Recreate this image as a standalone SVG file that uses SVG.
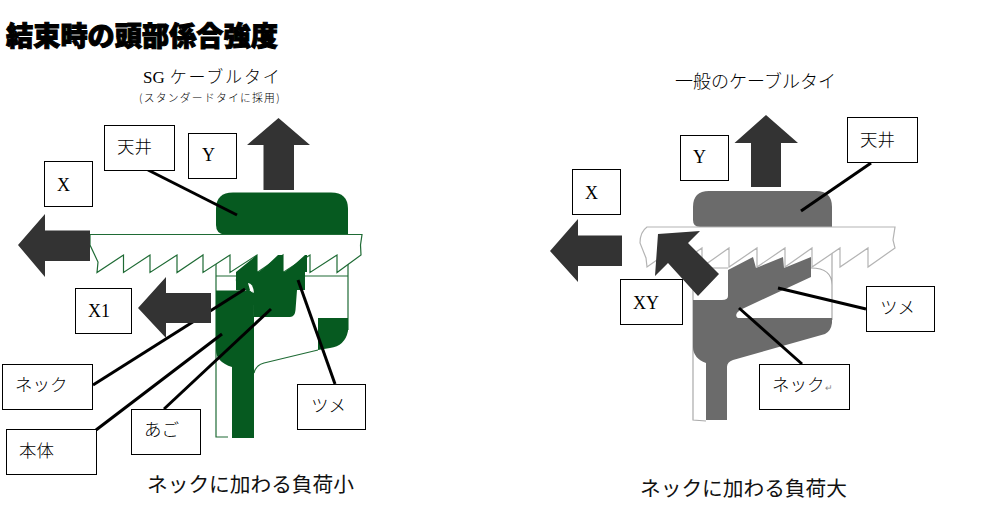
<svg xmlns="http://www.w3.org/2000/svg" width="1000" height="505" viewBox="0 0 1000 505">
<style>
.box{fill:#fff;stroke:#000;stroke-width:1}
.lat{font-family:"Liberation Serif",serif;font-size:18px;fill:#000}
.jp{font-family:"Noto Sans CJK JP","Liberation Sans",sans-serif;font-weight:300;font-size:17.5px;fill:#000}
.cap{font-family:"Noto Sans CJK JP","Liberation Sans",sans-serif;font-size:20.7px;fill:#111}
.ar{fill:#333}
.ln{fill:none;stroke:#000;stroke-width:3}
.gs{fill:#065a20}
.gl{fill:none;stroke:#1f6b35;stroke-width:1.2}
.ks{fill:#6b6b6b}
.kl{fill:none;stroke:#aaa;stroke-width:1.2}
</style>
<rect width="1000" height="505" fill="#fff"/>
<text id="title" x="6" y="46" font-family="'Noto Sans CJK JP',sans-serif" font-weight="900" font-size="27.2" fill="#000" stroke="#000" stroke-width="1">結束時の頭部係合強度</text>
<text x="143" y="83" class="lat"><tspan style="font-size:17px">SG</tspan><tspan class="jp" dx="5" style="font-size:17px" letter-spacing="1.8">ケーブルタイ</tspan></text>
<text x="139" y="102" class="jp" style="font-size:10.8px" letter-spacing="1.25">(スタンダードタイに採用)</text>
<text x="675" y="88" class="jp" style="font-size:18px">一般のケーブルタイ</text>

<g id="part-left">
<path class="gl" d="M216 234V437H228M348 234V330M216 276H348M318 350L264 363Q256 365 254 373"/>
<path class="gs" d="M216 225V209Q216 192.500 233 192.500H331Q348 192.500 348 209V234.500H225Q216 234 216 225Z"/>
<path class="gs" d="M216 290.500H236Q240 290 245 291L248 289L253 293L254 316V317H290Q295 317 295.500 310L297 290Q299 280 305 272L307 255L283 273V255L257 273V255L236 278Q235 285 240 287L248 283L253 293L254 317V438H232V367Q216 362 216 350Z"/>
<path class="gs" d="M318 318H348V331Q345 346 330 348L318 350Z"/>
<path fill="#fff" stroke="#1f6b35" stroke-width="1.200" d="M90 234.500H362L360.500 245L361 255L337 272.500V255L310 272.500V255L283 272.500V255L257 272.500V255L230 272.500V255L203 272.500V255L177 272.500V255L150 272.500V255L123.500 272.500V255L97 272.500L98 262L90 245Z"/>
<path class="gs" d="M236 272L257 255V272ZM260 272L278 255H283V272ZM286 272L305 255H307V272Z"/>
<path class="gs" d="M236 272H305V290H236Z"/>
<path fill="#fff" d="M248 283Q253 283 254 293L250 290Z"/>
</g>
<g id="part-right">
<path class="kl" d="M693 227V420L706 421M832 227V320M693 268H728M811 268Q832 268 832 285"/>
<path class="ks" d="M693 227V207Q693 191 709 191H816Q832 191 832 207V227H700Q693 227 693 220Z"/>
<path fill="#fff" stroke="#b4b4b4" stroke-width="1.200" d="M647 227H895L893 240L895 248L868 267V248L840 267V248L812 267V248L785 267V248L757 267V248L729 267V248L702 267V248L674 267V248L647 267L646 258L640 243Q640 232 647 227Z"/>
<path class="ks" d="M728 270L753 257L756 268L783 257L784 268L811 257V277L740 310L737 313Q735 318 740 318H832V323Q831 331 825 334L733 360Q727 362 727 367V420H706V363Q693 358 693 347V300H722Q728 300 728 296Z"/>
<path fill="#fff" d="M741 310L737 313Q735 318 740 318H744L742 310Z"/>
</g>

<g id="connectors">
<path class="ln" d="M148 170L237 215"/>
<path class="ln" d="M93 385L245 289"/>
<path class="ln" d="M96 430L222 334"/>
<path class="ln" d="M164 409L271 309"/>
<path class="ln" d="M335 384L298 280"/>
<path class="ln" d="M871 163L801 211"/>
<path class="ln" d="M866 309L778 288"/>
<path class="ln" d="M802 364L739 308"/>
</g>

<g id="arrow-y-left"><path class="ar" d="M278.500 118L310 145H294V190H263.500V145H247Z"/></g>
<g id="arrow-x-left"><path class="ar" d="M18 245L45 214V230.500H90V261H45V277Z"/></g>
<g id="arrow-x1"><path class="ar" d="M138 308L166 277V293H211V323H166V338Z"/></g>
<g id="arrow-y-right"><path class="ar" d="M766 115L798 143H781V187H751V143H734.500Z"/></g>
<g id="arrow-x-right"><path class="ar" d="M550 251L578 219V235.500H622V266H578V282Z"/></g>
<g id="arrow-xy"><path class="ar" d="M658 234L700 231L688 243L719 274L698 296L668 263L655 276Z"/></g>

<g id="n-tenjo-l"><rect class="box" x="104.500" y="125.500" width="70" height="45"/><text class="jp" x="117" y="153">天井</text></g>
<g id="n-y-l"><rect class="box" x="188.500" y="133.500" width="48" height="45"/><text class="lat" x="202" y="161">Y</text></g>
<g id="n-x-l"><rect class="box" x="44.500" y="161.500" width="48" height="45"/><text class="lat" x="57" y="191">X</text></g>
<g id="n-x1"><rect class="box" x="75.500" y="288.500" width="56" height="45"/><text class="lat" x="88" y="317">X1</text></g>
<g id="n-neck-l"><rect class="box" x="2.500" y="364.500" width="90" height="45"/><text class="jp" x="15" y="391">ネック</text></g>
<g id="n-hontai"><rect class="box" x="6.500" y="429.500" width="90" height="45"/><text class="jp" x="19" y="457">本体</text></g>
<g id="n-ago"><rect class="box" x="131.500" y="409.500" width="69" height="45"/><text class="jp" x="144" y="436">あご</text></g>
<g id="n-tsume-l"><rect class="box" x="297.500" y="384.500" width="68" height="45"/><text class="jp" x="311" y="412">ツメ</text></g>

<g id="n-tenjo-r"><rect class="box" x="847.500" y="117.500" width="70" height="45"/><text class="jp" x="860" y="146">天井</text></g>
<g id="n-y-r"><rect class="box" x="680.500" y="135.500" width="48" height="45"/><text class="lat" x="693" y="163">Y</text></g>
<g id="n-x-r"><rect class="box" x="572.500" y="169.500" width="48" height="45"/><text class="lat" x="585" y="199">X</text></g>
<g id="n-xy"><rect class="box" x="620.500" y="279.500" width="62" height="45"/><text class="lat" x="633" y="309">XY</text></g>
<g id="n-tsume-r"><rect class="box" x="866.500" y="286.500" width="68" height="45"/><text class="jp" x="880" y="314">ツメ</text></g>
<g id="n-neck-r"><rect class="box" x="759.500" y="364.500" width="90" height="45"/><text class="jp" x="772" y="391">ネック<tspan fill="#888" style="font-size:9px">↵</tspan></text></g>

<text x="147" y="492" class="cap">ネックに加わる負荷小</text>
<text x="640" y="496" class="cap">ネックに加わる負荷大</text>
</svg>
